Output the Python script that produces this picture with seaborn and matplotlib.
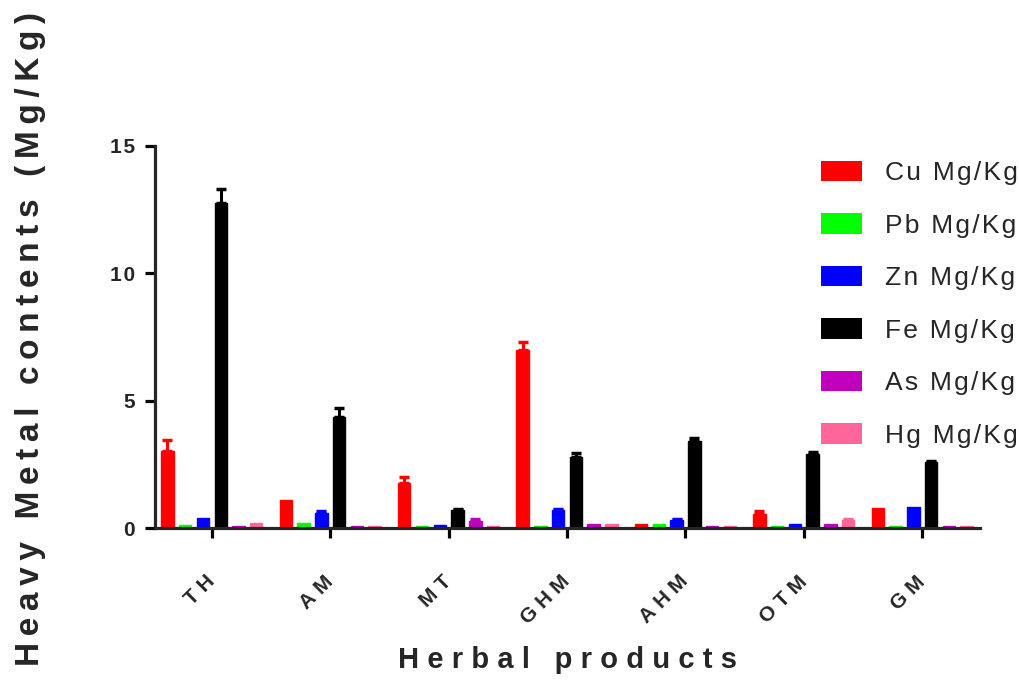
import matplotlib
matplotlib.use("Agg")
import matplotlib.pyplot as plt
import seaborn as sns
import pandas as pd
from matplotlib.patches import Patch

# Herbal products and measured metal contents (mg/kg)
products = ["TH", "AM", "MT", "GHM", "AHM", "OTM", "GM"]
metals = ["Cu", "Pb", "Zn", "Fe", "As", "Hg"]

cu = [3.04, 1.09, 1.78, 6.99, 0.17, 0.56, 0.80]
pb = [0.10, 0.20, 0.08, 0.08, 0.17, 0.08, 0.08]
zn = [0.41, 0.58, 0.10, 0.70, 0.30, 0.17, 0.81]
fe = [12.76, 4.37, 0.70, 2.78, 3.41, 2.89, 2.60]
as_ = [0.08, 0.08, 0.29, 0.17, 0.08, 0.17, 0.08]
hg = [0.19, 0.08, 0.08, 0.17, 0.08, 0.30, 0.08]

# upper error (SD)
cu_err = [0.42, 0.00, 0.21, 0.29, 0.00, 0.12, 0.00]
pb_err = [0.00, 0.00, 0.00, 0.00, 0.00, 0.00, 0.00]
zn_err = [0.00, 0.10, 0.00, 0.06, 0.07, 0.00, 0.00]
fe_err = [0.55, 0.33, 0.06, 0.16, 0.11, 0.11, 0.04]
as_err = [0.00, 0.00, 0.08, 0.00, 0.00, 0.00, 0.00]
hg_err = [0.00, 0.00, 0.00, 0.00, 0.00, 0.07, 0.00]

values = [cu, pb, zn, fe, as_, hg]
errors = [cu_err, pb_err, zn_err, fe_err, as_err, hg_err]
colors = ["#FF0000", "#00FF00", "#0000FF", "#000000", "#BF00BF", "#FF6699"]
y_ticks = [0, 5, 10, 15]

THIN = "\u2009"
HAIR = "\u200a"


def spaced(text, gap):
    return gap.join(text)


rows = []
for m, vals in zip(metals, values):
    for p, v in zip(products, vals):
        rows.append({"product": p, "metal": m, "value": v})
df = pd.DataFrame(rows)

sns.set_style("ticks")
plt.rcParams["font.family"] = ["Liberation Sans", "DejaVu Sans"]

fig = plt.figure(figsize=(10.2, 6.8), dpi=100)
ax = fig.add_axes([0.152, 0.2235, 0.809, 0.5625])

sns.barplot(data=df, x="product", y="value", hue="metal", order=products,
            hue_order=metals, palette=colors, width=0.9, gap=0.3,
            saturation=1, errorbar=None, legend=False, ax=ax)

# thin same-colour outline so the smallest bars stay visible
for cont, col in zip(ax.containers, colors):
    for bar in cont.patches:
        bar.set_edgecolor(col)
        bar.set_linewidth(1.0)

# upper error bars on each bar
for cont, errs, col in zip(ax.containers, errors, colors):
    for bar, e in zip(cont.patches, errs):
        if e <= 0:
            continue
        x = bar.get_x() + bar.get_width() / 2
        h = bar.get_height()
        ax.errorbar([x], [h], yerr=[[0], [e]], fmt="none", ecolor=col,
                    elinewidth=2.2, capsize=3.5, capthick=2.5, zorder=3)

ax.set_ylim(0, 15)
ax.set_xlim(-0.48, 6.49)
ax.set_yticks(y_ticks)
ax.set_yticklabels([spaced(str(t), HAIR) for t in y_ticks],
                   fontsize=15, fontweight="bold")
ax.set_xticks(range(len(products)))
ax.set_xticklabels([spaced(p, THIN + HAIR) for p in products], rotation=45,
                   ha="right", va="center", rotation_mode="anchor",
                   fontsize=15, fontweight="bold")

for side in ["top", "right"]:
    ax.spines[side].set_visible(False)
for side in ["left", "bottom"]:
    ax.spines[side].set_linewidth(2.3)
ax.tick_params(axis="both", width=2.3, length=7.5, color="black")
ax.tick_params(axis="y", pad=7)
ax.tick_params(axis="x", pad=29)

ax.set_xlabel(spaced("Herbal products", THIN + HAIR), fontsize=21,
              fontweight="bold")
ax.xaxis.set_label_coords(0.5, -0.346)
ax.xaxis.label.set_va("center")
ax.set_ylabel(spaced("Heavy Metal contents (Mg/Kg)", THIN), fontsize=24,
              fontweight="bold")
ax.yaxis.set_label_coords(-0.1515, 0.495)
ax.yaxis.label.set_va("center")

handles = [Patch(facecolor=c, edgecolor="none") for c in colors]
labels = [spaced(f"{m} Mg/Kg", HAIR) for m in metals]
fig.legend(handles, labels, loc="upper left", bbox_to_anchor=(0.795, 0.779),
           frameon=False, fontsize=19, handlelength=1.55, handleheight=0.8,
           handletextpad=0.87, labelspacing=1.07, borderaxespad=0)

fig.savefig("out.png", dpi=100)
